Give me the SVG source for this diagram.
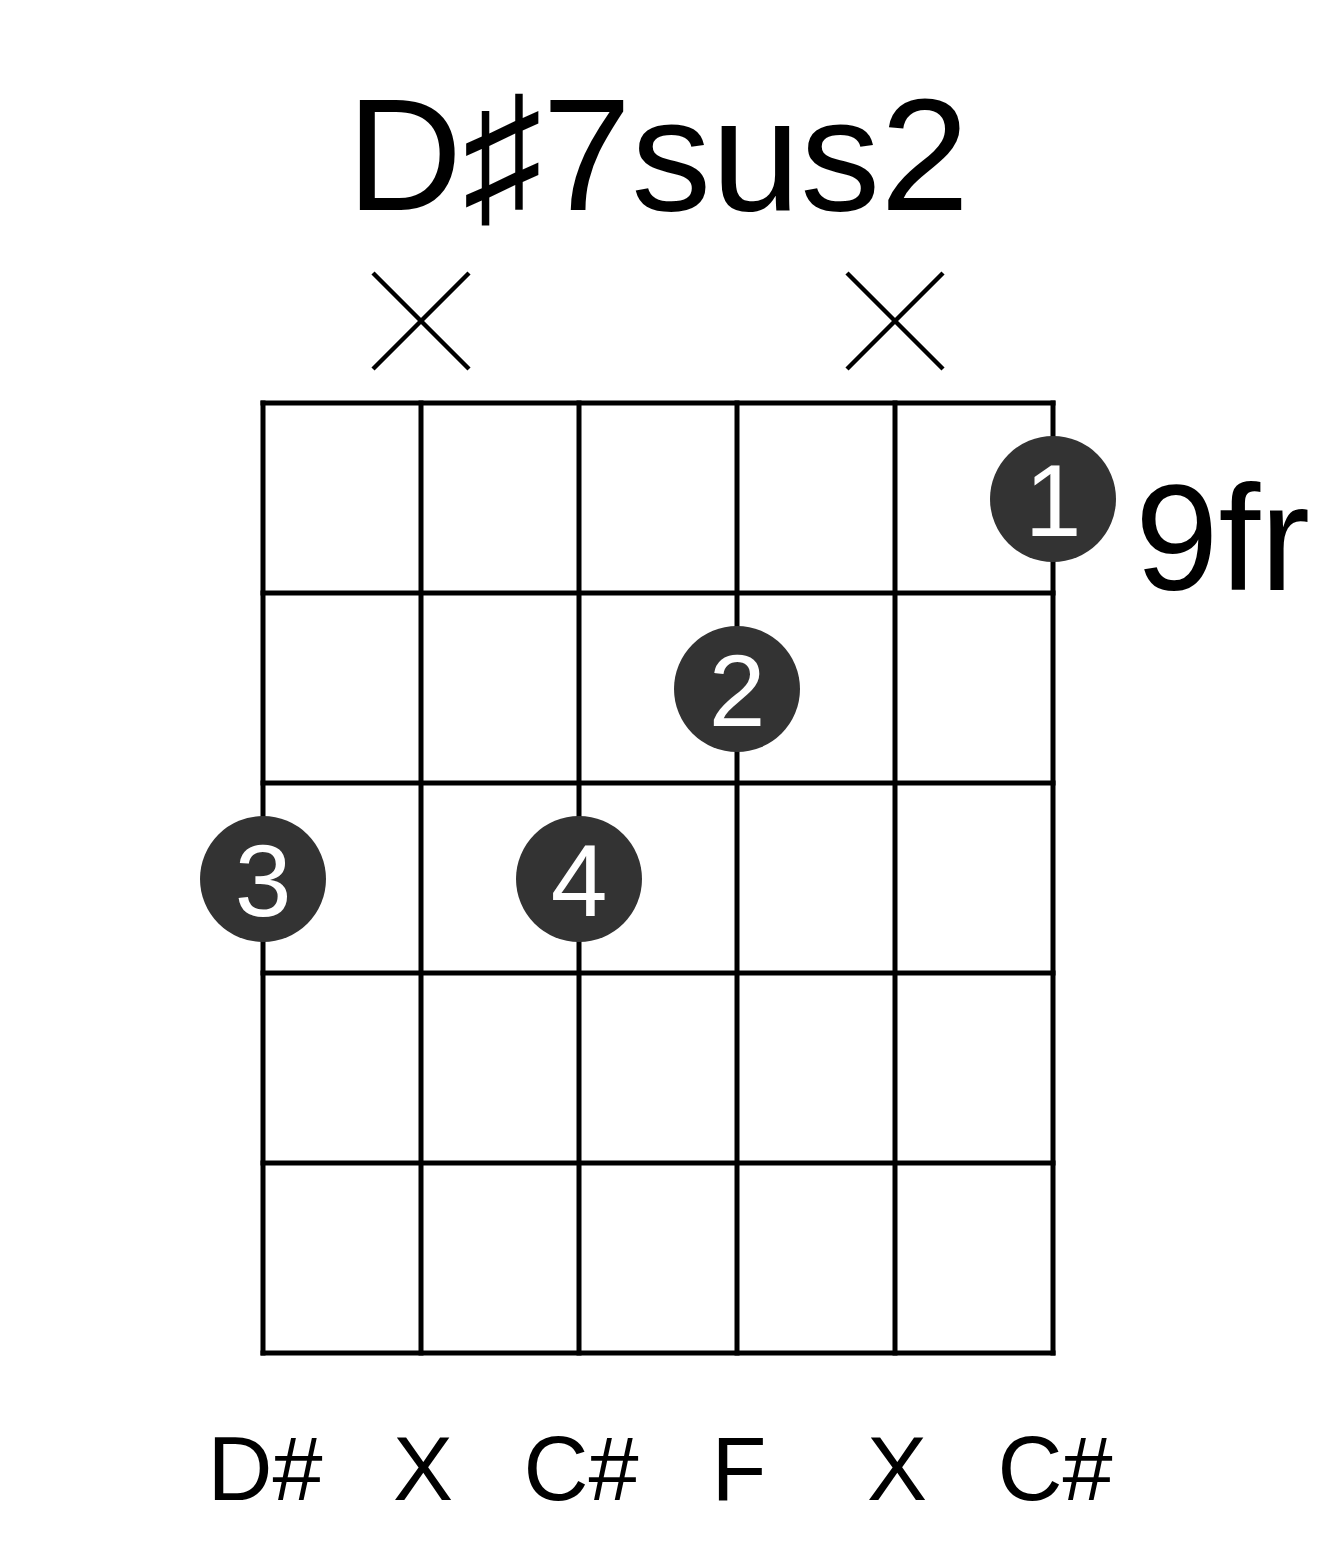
<svg xmlns="http://www.w3.org/2000/svg" width="1317" height="1551" viewBox="0 0 1317 1551">
<style>
.grid line{stroke:#000;stroke-width:5;stroke-linecap:square}
.mute line{stroke:#000;stroke-width:4.5}
.dot circle{fill:#333}
.dot text{fill:#fff;font-family:"Liberation Sans",Arial,sans-serif;font-size:102px;text-anchor:middle}
.lbl{font-family:"Liberation Sans",Arial,sans-serif;font-size:90px;text-anchor:middle;fill:#000}
</style>
<rect width="1317" height="1551" fill="#fff"/>
<text id="title" x="658" y="210" font-family="'Liberation Sans', 'DejaVu Sans', sans-serif" font-size="160" text-anchor="middle">D♯7sus2</text>
<g id="grid" class="grid">
<line x1="263" y1="403" x2="1053" y2="403"/>
<line x1="263" y1="593" x2="1053" y2="593"/>
<line x1="263" y1="783" x2="1053" y2="783"/>
<line x1="263" y1="973" x2="1053" y2="973"/>
<line x1="263" y1="1163" x2="1053" y2="1163"/>
<line x1="263" y1="1353" x2="1053" y2="1353"/>
<line x1="263" y1="403" x2="263" y2="1353"/>
<line x1="421" y1="403" x2="421" y2="1353"/>
<line x1="579" y1="403" x2="579" y2="1353"/>
<line x1="737" y1="403" x2="737" y2="1353"/>
<line x1="895" y1="403" x2="895" y2="1353"/>
<line x1="1053" y1="403" x2="1053" y2="1353"/>
</g>
<g id="mute-2" class="mute">
<line x1="373" y1="273" x2="469" y2="369"/>
<line x1="469" y1="273" x2="373" y2="369"/>
</g>
<g id="mute-5" class="mute">
<line x1="847" y1="273" x2="943" y2="369"/>
<line x1="943" y1="273" x2="847" y2="369"/>
</g>
<g id="dot-1" class="dot"><circle cx="1053" cy="499" r="63"/><text x="1053" y="536">1</text></g>
<g id="dot-2" class="dot"><circle cx="737" cy="689" r="63"/><text x="737" y="726">2</text></g>
<g id="dot-3" class="dot"><circle cx="263" cy="879" r="63"/><text x="263" y="916">3</text></g>
<g id="dot-4" class="dot"><circle cx="579" cy="879" r="63"/><text x="579" y="916">4</text></g>
<text id="fret" x="1135" y="590" font-family="'Liberation Sans', Arial, sans-serif" font-size="150">9fr</text>
<g id="notes">
<text class="lbl" x="265" y="1500">D#</text>
<text class="lbl" x="423" y="1500">X</text>
<text class="lbl" x="581" y="1500">C#</text>
<text class="lbl" x="739" y="1500">F</text>
<text class="lbl" x="897" y="1500">X</text>
<text class="lbl" x="1055" y="1500">C#</text>
</g>
</svg>
